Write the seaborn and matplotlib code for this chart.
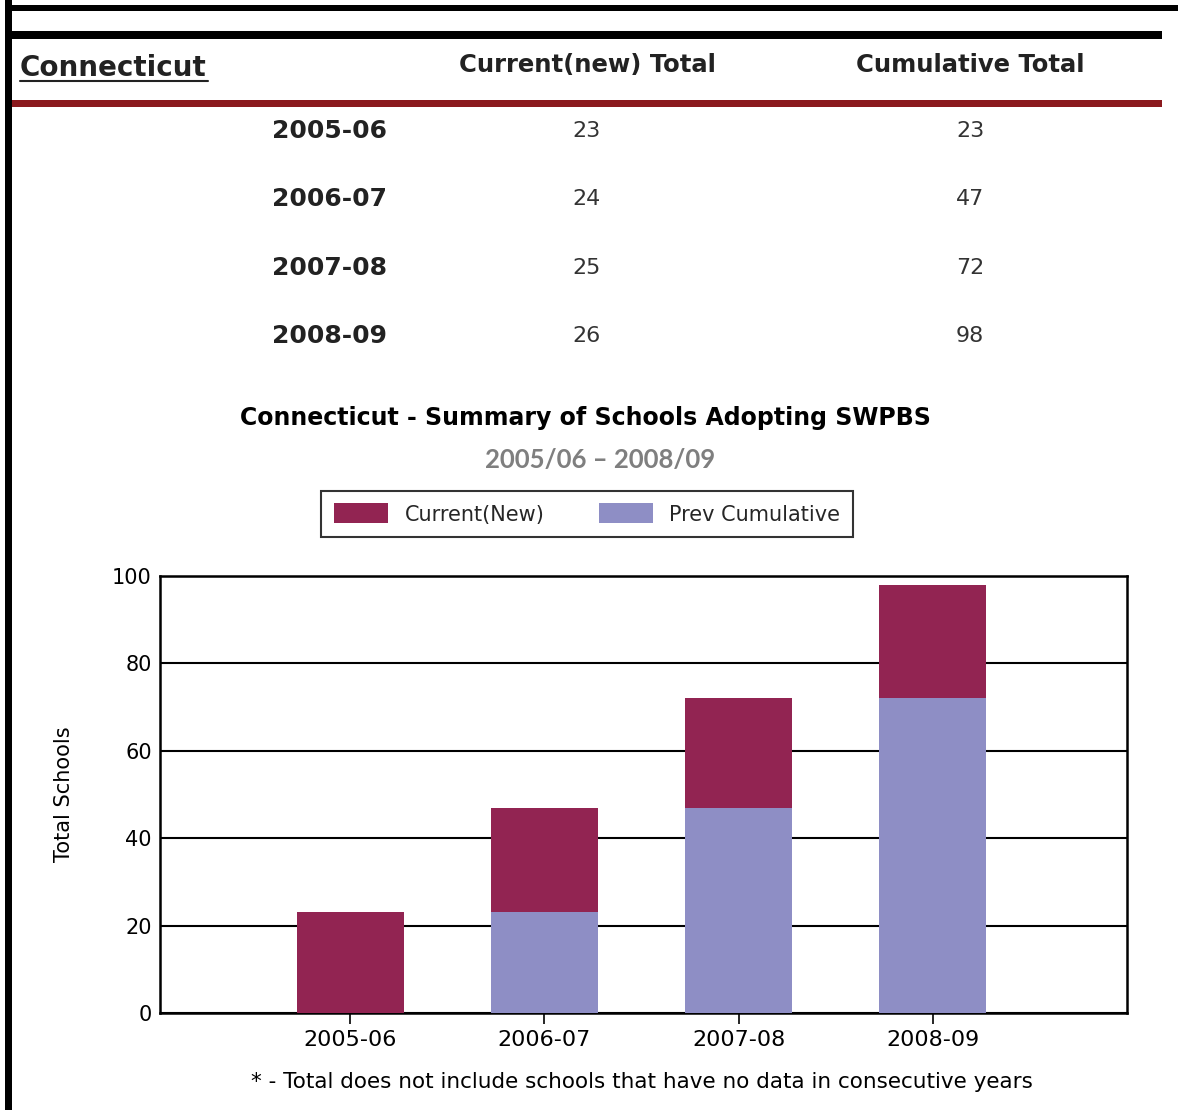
import matplotlib
matplotlib.use("Agg")
import matplotlib.pyplot as plt
import seaborn as sns
import pandas as pd
from matplotlib.patches import Rectangle, Patch
from matplotlib.lines import Line2D

# ---- data ----
years = ["2005-06", "2006-07", "2007-08", "2008-09"]
current_new = [23, 24, 25, 26]
cumulative_total = [23, 47, 72, 98]
prev_cumulative = [0, 23, 47, 72]

state = "Connecticut"
chart_title = "Connecticut - Summary of Schools Adopting SWPBS"
chart_subtitle = "2005/06 \u2013 2008/09"
footnote = "* - Total does not include schools that have no data in consecutive years"

C_NEW = "#922452"
C_PREV = "#8E8EC5"

sns.set_theme(style="white")
plt.rcParams['font.family'] = ['DejaVu Sans']

W, H = 1178, 1110
fig = plt.figure(figsize=(W / 100, H / 100), dpi=100)
fig.patch.set_facecolor("white")

def fx(x):
    return x / W

def fy(y):
    return 1 - y / H

def rect_px(x0, y0, x1, y1, color):
    fig.add_artist(Rectangle((fx(x0), fy(y1)), fx(x1) - fx(x0), fy(y0) - fy(y1),
                             transform=fig.transFigure, color=color, lw=0, zorder=5))

# borders
rect_px(5, 0, 12, H, "black")
rect_px(5, 5, W, 11, "black")
rect_px(10, 31, 1162, 39, "black")
rect_px(12, 100, 1162, 107, "#8B1A1E")

# table header
fig.text(fx(20), fy(68), state, fontsize=20, fontweight="bold", color="#222222",
         ha="left", va="center")
fig.add_artist(Line2D([fx(20), fx(208)], [fy(81), fy(81)], transform=fig.transFigure,
                      color="#222222", lw=1.5))
fig.text(fx(587), fy(65), "Current(new) Total", fontsize=17.5, fontweight="bold",
         color="#222222", ha="center", va="center")
fig.text(fx(970), fy(65), "Cumulative Total", fontsize=17.5, fontweight="bold",
         color="#222222", ha="center", va="center")

row_y = [131, 199, 268, 336]
for yy, yr, cn, ct in zip(row_y, years, current_new, cumulative_total):
    fig.text(fx(330), fy(yy), yr, fontsize=18, fontweight="bold", color="#222222",
             ha="center", va="center")
    fig.text(fx(587), fy(yy), str(cn), fontsize=16, color="#333333",
             ha="center", va="center")
    fig.text(fx(970), fy(yy), str(ct), fontsize=16, color="#333333",
             ha="center", va="center")

# chart titles
fig.text(fx(585), fy(418), chart_title, fontsize=17, fontweight="bold", color="black",
         ha="center", va="center")
fig.text(fx(600), fy(460), chart_subtitle, fontsize=18.5, fontweight="bold", color="#7F7F7F",
         ha="center", va="center", family=["Lato", "DejaVu Sans"])

# axes
ax = fig.add_axes([fx(160), fy(1013), fx(1127) - fx(160), fy(576) - fy(1013)])
df = pd.DataFrame({"year": years, "total": cumulative_total, "prev": prev_cumulative})
sns.barplot(data=df, x="year", y="total", color=C_NEW, width=0.55, saturation=1,
            ax=ax, zorder=3, edgecolor="none")
sns.barplot(data=df, x="year", y="prev", color=C_PREV, width=0.55, saturation=1,
            ax=ax, zorder=4, edgecolor="none")

ax.set_xlim(-0.98, 4.0)
ax.set_ylim(0, 100)
ax.set_yticks([0, 20, 40, 60, 80, 100])
ax.set_axisbelow(True)
ax.yaxis.grid(True, color="black", lw=1.5)
ax.xaxis.grid(False)
for s in ax.spines.values():
    s.set_color("black")
    s.set_linewidth(1.8)
ax.tick_params(axis="y", length=0, pad=6, labelsize=15, colors="black")
ax.tick_params(axis="x", length=8, width=1.2, direction="out", pad=4, labelsize=16,
               colors="black", bottom=True)
ax.set_xlabel("")
ax.set_ylabel("Total Schools", fontsize=15, color="black", labelpad=27)

handles = [Patch(facecolor=C_NEW, edgecolor="none", label="Current(New)"),
           Patch(facecolor=C_PREV, edgecolor="none", label="Prev Cumulative")]
leg = fig.legend(handles=handles, loc="center", bbox_to_anchor=(fx(587), fy(514)),
                 ncol=2, frameon=True, fancybox=False, edgecolor="black",
                 fontsize=15, handlelength=2.6, handleheight=1.1, columnspacing=2.6,
                 borderpad=0.6, handletextpad=0.8)
leg.get_frame().set_linewidth(1.5)

fig.text(fx(642), fy(1082), footnote, fontsize=15.5, color="black",
         ha="center", va="center")

fig.savefig("out.png", dpi=100)
